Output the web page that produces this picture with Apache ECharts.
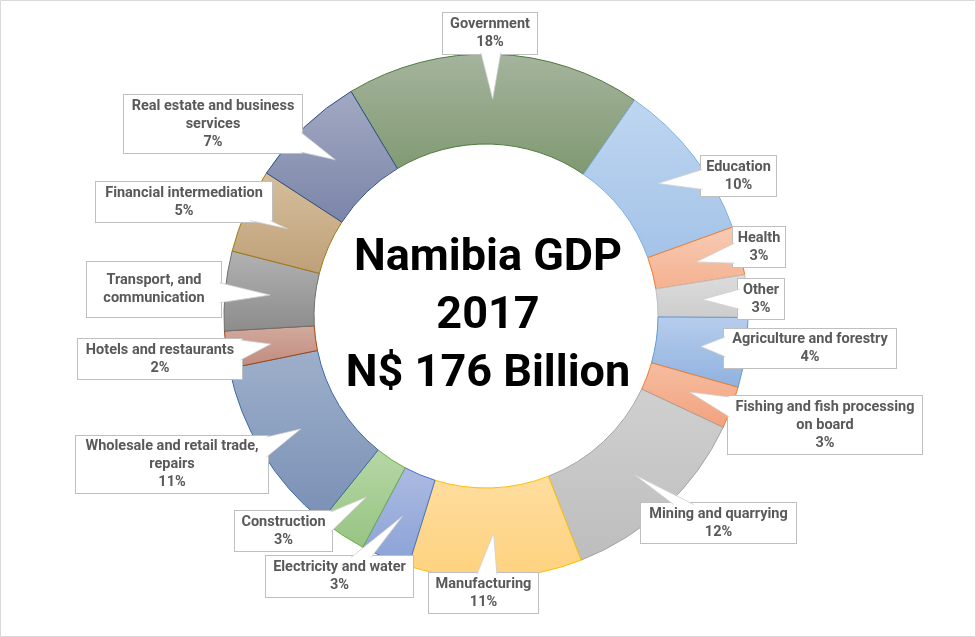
<!DOCTYPE html>
<html>
<head>
<meta charset="utf-8">
<script src="https://cdn.jsdelivr.net/npm/echarts@6/dist/echarts.min.js"></script>
<style>
  html, body { margin: 0; padding: 0; background: #fff; }
  #chart { width: 976px; height: 637px; }
</style>
</head>
<body>
<div id="chart"></div>
<script>
// sectors, clockwise from the top
var sectors = ['Government', 'Education', 'Health', 'Other', 'Agriculture and forestry',
  'Fishing and fish processing on board', 'Mining and quarrying', 'Manufacturing',
  'Electricity and water', 'Construction', 'Wholesale and retail trade, repairs',
  'Hotels and restaurants', 'Transport, and communication', 'Financial intermediation',
  'Real estate and business services'];
// share of GDP, %
var shares = [18.2, 9.9, 3.0, 2.6, 4.3, 2.6, 12.1, 10.7, 3.0, 3.0, 11.0, 2.3, 4.9, 5.2, 7.2];
// wrapped label text as in the original
var labelNames = ['Government', 'Education', 'Health', 'Other', 'Agriculture and forestry',
  'Fishing and fish processing\non board', 'Mining and quarrying', 'Manufacturing',
  'Electricity and water', 'Construction', 'Wholesale and retail trade,\nrepairs',
  'Hotels and restaurants', 'Transport, and\ncommunication', 'Financial intermediation',
  'Real estate and business\nservices'];
var showPct = [true, true, true, true, true, true, true, true, true, true, true, true, false, true, true];

// styles
var topColors = ['#a5b49d', '#bed6f0', '#f8cbb4', '#dcdcdc', '#b7cdec', '#f6bda1', '#d0d0d0', '#fedd9e',
  '#acbae2', '#b6d7a6', '#9dafca', '#d2aa9e', '#b2b2b2', '#d6bf9d', '#a2a9c3'];
var bottomColors = ['#7f9971', '#a4c3e8', '#f4b190', '#cdcdcd', '#8fb1df', '#f2a27e', '#bdbdbd', '#fed27e',
  '#8aa2d6', '#96c482', '#7a90b5', '#c08a7c', '#8c8c8c', '#bea078', '#7b85a8'];
var edgeColors = ['#4f7a3c', '#7eb0e0', '#ed7d31', '#bfbfbf', '#5b9bd5', '#ed7d31', '#a5a5a5', '#ffc000',
  '#4472c4', '#70ad47', '#3f6aa8', '#9e480e', '#6f6f6f', '#a07a10', '#2f4f8a'];

// label box layout [x1, y1, x2, y2]
var labelBoxes = [
  [443, 13, 537, 54], [701, 156, 776, 196], [733, 227, 785, 267], [738, 279, 784, 319],
  [724, 329, 896, 368], [728, 396, 922, 454], [641, 503, 796, 543], [429, 573, 538, 613],
  [266, 556, 413, 597], [235, 511, 332, 551], [76, 436, 268, 493], [78, 339, 242, 379],
  [87, 262, 221, 317], [96, 182, 272, 222], [124, 95, 302, 153]
];

var CX = 486, CY = 316, R_IN = 172, R_OUT = 262, TIP_R = 217, START = -31;
var LINE_H = 18;

var total = shares.reduce(function (a, b) { return a + b; }, 0);
var midAngles = [];
var acc = 0;
shares.forEach(function (v) {
  midAngles.push(START + 360 * (acc + v / 2) / total);
  acc += v;
});

// white callout pointer: base on the box edge, tip in the middle of its slice
function wedge(i) {
  var b = labelBoxes[i];
  var bx = (b[0] + b[2]) / 2, by = (b[1] + b[3]) / 2;
  var hwBox = (b[2] - b[0]) / 2, hhBox = (b[3] - b[1]) / 2;
  var a = midAngles[i] * Math.PI / 180;
  var tip = [CX + TIP_R * Math.sin(a), CY - TIP_R * Math.cos(a)];
  var dx = tip[0] - bx, dy = tip[1] - by;
  var sx = hwBox / Math.abs(dx || 1e-6), sy = hhBox / Math.abs(dy || 1e-6);
  var hw = 10, p1, p2;
  if (sy < sx) {
    // leaves through top or bottom edge
    var ey = dy > 0 ? b[3] - 1.5 : b[1] + 1.5;
    var ex = Math.min(Math.max(bx + dx * sy, b[0] + hw + 2), b[2] - hw - 2);
    p1 = [ex - hw, ey]; p2 = [ex + hw, ey];
  } else {
    // leaves through left or right edge
    var ex2 = dx > 0 ? b[2] - 1.5 : b[0] + 1.5;
    var ey2 = Math.min(Math.max(by + dy * sx, b[1] + hw + 1), b[3] - hw - 1);
    var h2 = Math.min(hw, hhBox - 3);
    p1 = [ex2, ey2 - h2]; p2 = [ex2, ey2 + h2];
  }
  return { tip: tip, p1: p1, p2: p2 };
}

var data = sectors.map(function (name, i) {
  var b = labelBoxes[i];
  var lines = labelNames[i].split('\n').length + (showPct[i] ? 1 : 0);
  var padY = Math.max(0, (b[3] - b[1] - lines * LINE_H) / 2);
  return {
    name: name,
    value: shares[i],
    itemStyle: {
      color: {
        type: 'linear', x: 0, y: 0, x2: 0, y2: 1,
        colorStops: [{ offset: 0, color: topColors[i] }, { offset: 1, color: bottomColors[i] }]
      },
      borderColor: edgeColors[i],
      borderWidth: 1
    },
    label: {
      width: b[2] - b[0] - 4,
      padding: [padY, 2, padY, 2]
    }
  };
});

var myChart = echarts.init(document.getElementById('chart'));
var option = {
  animation: false,
  graphic: [
    {
      type: 'rect', silent: true,
      shape: { x: 0.5, y: 0.5, width: 975, height: 636 },
      style: { fill: 'none', stroke: '#d9d9d9', lineWidth: 1 }
    },
    {
      type: 'text', silent: true, x: 488, y: 317,
      style: {
        text: 'Namibia GDP\n2017\nN$ 176 Billion',
        font: 'bold 45px Roboto',
        fill: '#000',
        textAlign: 'center', textVerticalAlign: 'middle',
        align: 'center', verticalAlign: 'middle',
        lineHeight: 58
      }
    }
  ],
  series: [
    {
      type: 'pie',
      center: [CX, CY],
      radius: [R_IN, R_OUT],
      startAngle: 90 - START,
      clockwise: true,
      avoidLabelOverlap: false,
      emphasis: { disabled: true },
      label: {
        show: true,
        position: 'outside',
        formatter: function (p) {
          var t = labelNames[p.dataIndex];
          return showPct[p.dataIndex] ? t + '\n' + Math.round(p.percent) + '%' : t;
        },
        color: '#595959',
        fontFamily: 'Roboto',
        fontWeight: 'bold',
        fontSize: 14.5,
        lineHeight: LINE_H,
        overflow: 'none',
        align: 'center',
        backgroundColor: '#fff',
        borderColor: '#bfbfbf',
        borderWidth: 1
      },
      labelLine: { show: false },
      labelLayout: function (p) {
        var b = labelBoxes[p.dataIndex];
        return {
          x: (b[0] + b[2]) / 2,
          y: (b[1] + b[3]) / 2,
          align: 'center',
          verticalAlign: 'middle'
        };
      },
      data: data
    },
    {
      // callout pointers
      type: 'custom',
      coordinateSystem: 'none',
      silent: true,
      z: 10,
      data: sectors.map(function (n, i) { return i; }),
      renderItem: function (params) {
        var w = wedge(params.dataIndex);
        return {
          type: 'group',
          children: [
            { type: 'polygon', shape: { points: [w.p1, w.tip, w.p2] }, style: { fill: '#fff' } },
            { type: 'polyline', shape: { points: [w.p1, w.tip, w.p2] },
              style: { fill: null, stroke: '#cfcfcf', lineWidth: 0.8 } }
          ]
        };
      }
    }
  ]
};
myChart.setOption(option);
</script>
</body>
</html>
